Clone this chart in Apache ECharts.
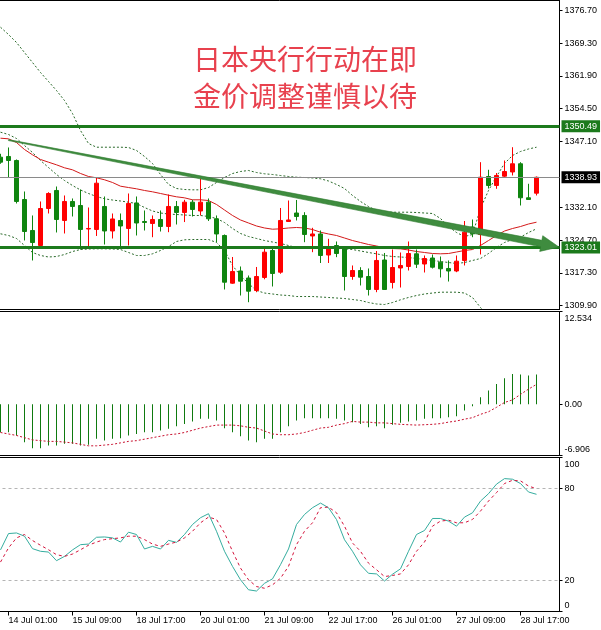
<!DOCTYPE html>
<html><head><meta charset="utf-8">
<script src="https://cdn.jsdelivr.net/npm/echarts@6/dist/echarts.min.js"></script>
<style>html,body{margin:0;padding:0;background:#fff}#c{width:601px;height:630px}</style>
</head><body><div id="c"></div>
<script>
// ---- tick labels ----
const xTickIdx = [1, 9, 17, 25, 33, 41, 49, 57, 65];
const xTickLabels = ['14 Jul 01:00','15 Jul 09:00','18 Jul 17:00','20 Jul 01:00','21 Jul 09:00','22 Jul 17:00','26 Jul 01:00','27 Jul 09:00','28 Jul 17:00'];
const priceTicks = [1309.90, 1317.30, 1324.70, 1332.10, 1347.10, 1354.50, 1361.90, 1369.30, 1376.70];
const macdTicks = [-6.906, 0, 12.534];
const macdTickLabels = ['-6.906', '0.00', '12.534'];
const stochTicks = [0, 20, 80, 100];
const stochLevels = [20, 80];

// ---- price candles (4H) ----
const opens = [1343.48,1343.64,1342.73,1333.90,1326.88,1323.48,1331.86,1335.94,1329.15,1333.45,1332.54,1327.22,1327.11,1332.32,1326.77,1329.15,1327.34,1333.11,1328.92,1328.47,1329.37,1327.79,1332.32,1330.96,1333.29,1331.30,1333.29,1329.53,1325.75,1314.95,1317.71,1316.12,1313.29,1316.24,1322.35,1317.44,1328.92,1330.84,1330.28,1325.64,1326.09,1321.33,1323.48,1322.80,1316.46,1317.82,1316.46,1313.52,1320.20,1315.11,1318.39,1318.73,1321.60,1319.29,1320.65,1319.70,1318.28,1317.71,1320.09,1327.67,1325.98,1339.11,1337.07,1339.18,1340.13,1341.99,1334.29,1335.33];
const highs = [1344.25,1345.68,1342.96,1335.71,1330.28,1333.45,1335.55,1336.84,1334.81,1334.13,1336.17,1332.09,1338.77,1334.58,1330.73,1330.73,1335.26,1334.58,1331.41,1330.28,1331.41,1335.03,1333.56,1333.83,1333.83,1338.66,1334.13,1330.28,1325.98,1320.88,1318.73,1316.69,1318.62,1323.37,1323.37,1331.98,1333.67,1333.79,1331.02,1327.49,1326.88,1325.00,1324.39,1323.10,1318.96,1318.57,1318.28,1322.24,1321.79,1322.58,1321.90,1324.39,1322.58,1321.22,1321.45,1320.99,1320.09,1321.22,1329.03,1329.37,1342.35,1340.63,1339.90,1342.73,1345.74,1342.35,1337.46,1339.11];
const lows = [1341.99,1338.88,1333.00,1324.62,1320.09,1323.10,1330.73,1326.43,1326.20,1330.05,1322.58,1323.26,1325.64,1323.71,1325.07,1323.26,1323.48,1325.75,1326.88,1325.36,1326.65,1326.50,1328.24,1328.79,1330.05,1330.28,1329.03,1324.23,1313.52,1314.81,1312.16,1310.64,1312.91,1315.83,1314.20,1317.08,1328.81,1329.15,1324.23,1321.97,1319.52,1319.52,1320.84,1313.29,1315.72,1314.43,1312.16,1312.91,1313.45,1313.75,1313.97,1317.82,1318.39,1317.37,1318.28,1316.24,1315.33,1317.44,1318.96,1325.36,1321.45,1336.39,1336.32,1338.88,1339.34,1332.54,1333.83,1334.81];
const closes = [1342.35,1342.73,1333.45,1326.65,1324.16,1331.86,1335.26,1329.37,1333.45,1332.32,1327.11,1327.34,1337.59,1326.77,1329.49,1327.90,1333.00,1328.58,1328.70,1329.37,1327.79,1332.32,1330.96,1333.29,1331.64,1333.29,1329.53,1326.09,1315.17,1317.60,1315.40,1313.14,1316.46,1321.97,1317.14,1329.15,1329.26,1330.05,1325.98,1326.09,1321.22,1323.14,1321.67,1316.46,1317.82,1316.31,1313.52,1320.09,1313.52,1318.50,1318.96,1321.67,1319.25,1320.54,1318.57,1318.21,1317.71,1319.93,1326.50,1326.13,1338.95,1337.07,1339.34,1340.24,1341.99,1334.29,1333.90,1338.93];

// ---- overlays ----
const bbUpper = [1372.91,1371.26,1369.45,1367.18,1364.92,1362.66,1360.62,1358.58,1356.31,1353.37,1349.52,1346.58,1345.74,1345.74,1345.74,1345.74,1345.67,1345.00,1343.64,1342.05,1339.56,1337.30,1336.39,1336.16,1336.09,1336.09,1336.61,1337.75,1338.88,1339.78,1340.24,1340.47,1340.01,1339.72,1339.56,1339.33,1339.11,1338.95,1338.88,1338.77,1338.59,1338.09,1337.30,1336.39,1334.81,1333.45,1332.31,1331.41,1331.02,1331.02,1331.02,1331.02,1330.95,1330.84,1330.73,1329.60,1327.78,1326.42,1325.52,1325.97,1331.86,1335.94,1339.11,1342.05,1343.86,1344.77,1345.34,1345.74];
const bbMiddle = [1349.14,1348.62,1347.71,1346.12,1344.54,1342.73,1341.14,1339.56,1338.20,1337.07,1336.05,1335.26,1334.58,1334.06,1333.78,1333.56,1333.29,1332.99,1332.09,1331.30,1330.84,1330.61,1330.50,1330.39,1330.28,1330.28,1330.05,1329.60,1328.69,1327.33,1326.20,1325.52,1325.07,1324.61,1324.27,1323.94,1323.48,1323.03,1322.80,1322.80,1322.80,1322.80,1322.80,1322.73,1322.57,1322.24,1321.90,1321.60,1321.22,1320.99,1320.88,1320.76,1320.54,1320.31,1320.09,1319.86,1319.63,1319.40,1319.63,1320.09,1320.54,1321.67,1323.03,1324.16,1324.84,1325.36,1326.42,1327.26];
const bbLower = [1326.13,1325.75,1325.07,1323.48,1321.90,1321.22,1320.88,1320.99,1321.44,1322.12,1322.57,1322.69,1322.73,1322.73,1322.69,1322.57,1321.90,1321.22,1321.22,1321.60,1322.35,1323.25,1324.39,1324.77,1324.84,1324.84,1324.84,1324.16,1322.35,1318.95,1316.69,1314.87,1313.29,1312.72,1312.50,1312.27,1312.16,1311.93,1311.93,1311.93,1311.82,1311.71,1311.59,1311.48,1311.25,1311.03,1310.57,1310.24,1310.12,1310.57,1311.19,1311.71,1312.16,1312.50,1312.72,1312.91,1312.91,1312.91,1312.72,1311.71,1309.44,1307.40,1306.95,1306.27,1305.82,1306.05,1307.40,1308.76];
const maRed = [1347.78,1347.64,1346.80,1345.22,1344.02,1342.96,1342.35,1341.75,1341.08,1340.62,1339.79,1339.11,1338.81,1338.36,1337.75,1336.91,1336.61,1336.32,1335.94,1335.64,1335.26,1334.87,1334.51,1334.28,1333.83,1333.83,1333.67,1332.77,1331.52,1330.28,1329.26,1328.58,1327.90,1327.45,1327.17,1327.26,1327.45,1327.56,1327.45,1327.10,1326.49,1326.09,1325.75,1325.18,1324.61,1324.16,1323.71,1323.37,1322.96,1322.80,1322.73,1322.46,1322.12,1321.90,1321.67,1321.60,1321.67,1322.01,1322.35,1322.57,1323.48,1324.61,1325.75,1326.76,1327.33,1327.78,1328.35,1328.76];

// ---- drawn objects ----
const resistance = 1350.49;
const support = 1323.01;
const lastPrice = 1338.93;
const trendStart = [1, 1347.35];
const trendEnd = [69.8, 1323.14];

// ---- MACD ----
const macdHist = [-3.76,-3.76,-4.21,-5.11,-5.92,-5.92,-5.56,-5.56,-5.33,-5.33,-5.56,-5.47,-4.66,-4.89,-4.66,-4.57,-4.21,-3.99,-3.76,-3.76,-3.54,-3.31,-2.95,-2.64,-2.32,-1.96,-1.96,-2.19,-3.22,-3.76,-4.30,-4.89,-5.11,-4.66,-4.66,-3.76,-2.95,-2.19,-1.87,-1.87,-1.87,-1.87,-1.96,-2.19,-2.41,-2.64,-3.09,-2.95,-3.22,-2.77,-2.50,-2.32,-2.19,-1.96,-1.87,-1.87,-1.74,-1.60,-0.83,-0.25,0.96,1.86,2.76,3.53,4.11,4.02,3.88,4.02];
const macdSignal = [-3.8,-4.0,-4.2,-4.5,-4.8,-4.9,-5.0,-5.0,-5.1,-5.2,-5.4,-5.6,-5.6,-5.5,-5.4,-5.2,-5.0,-4.9,-4.7,-4.5,-4.3,-4.1,-4.0,-3.8,-3.5,-3.2,-3.0,-2.8,-2.8,-2.8,-2.9,-3.1,-3.2,-3.6,-4.0,-4.1,-4.1,-4.0,-3.8,-3.5,-3.2,-3.1,-2.8,-2.6,-2.3,-2.4,-2.4,-2.5,-2.5,-2.6,-2.7,-2.75,-2.8,-2.75,-2.7,-2.6,-2.4,-2.25,-2.0,-1.8,-1.35,-1.0,-0.4,0.25,0.6,1.35,2.05,2.7];

// ---- Stochastic ----
const stochMain = [40,50.6,51,48.9,40.8,39.1,38.6,33.0,35.8,40,43.4,43.8,48.2,48.4,47.8,45.1,51.5,50.0,40.6,42.3,40.6,46.2,44.9,50.0,56.5,60.9,63.5,52.1,39.1,29.3,20.6,14.1,13.3,18.3,21.2,30.4,40.6,56.5,63.0,67.4,70.4,67.4,59.7,46.6,39.1,30.3,24.8,24.4,19.8,24.2,27.7,39.1,50.0,52.6,60.4,60.4,58.7,55.4,61.3,64.1,71.7,76.5,82.7,86.3,85.9,83.1,77.6,76.1];
const stochSignal = [32.1,41.3,47.8,50.0,46.1,43.0,40.1,36.9,35.8,37.3,40.1,43.0,45.1,46.7,47.3,47.8,48.9,48.9,46.7,43.8,42.3,43.8,45.1,47.8,52.1,57.6,61.3,59.8,51.0,39.1,28.2,20.6,16.2,15.1,17.3,21.6,29.3,43.4,52.1,57.6,67.4,67.8,64.1,55.4,44.5,39.1,31.4,27.1,22.7,23.4,24.4,30.3,39.1,45.1,55.4,58.7,59.3,57.6,57.6,59.8,65.2,71.7,77.2,83.1,85.2,84.8,81.5,79.7];

// ---- styles ----
const FONT = "'Liberation Sans', Arial, sans-serif";
const UP = '#ff0000', DOWN = '#0f850f', LEVEL = '#1c7a1c';
const pair = arr => arr.map((v, i) => [i, v]);
const xMin = -0.5, xMax = 69.875;
const GRID_LEFT = -3.5, GRID_W = 563;

function xAxisFor(g, bottom) {
  return {
    type: 'value', gridIndex: g, min: xMin, max: xMax,
    axisLine: { show: false, onZero: false }, splitLine: { show: false },
    axisTick: bottom ? { show: true, customValues: xTickIdx, length: 4, lineStyle: { color: '#000' } } : { show: false },
    axisLabel: bottom ? {
      show: true, customValues: xTickIdx, align: 'left', margin: 5,
      fontSize: 9, fontFamily: FONT, color: '#000',
      formatter: v => { const k = xTickIdx.indexOf(v); return k >= 0 ? xTickLabels[k] : ''; }
    } : { show: false }
  };
}
const richBase = { fontSize: 9, fontFamily: FONT, color: '#000' };
function yAxisFor(g, min, max, ticks, fmt) {
  return {
    type: 'value', gridIndex: g, position: 'right', min: min, max: max, scale: true,
    axisLine: { show: true, onZero: false, lineStyle: { color: '#000', width: 1 } },
    axisTick: { show: true, customValues: ticks, length: 3, lineStyle: { color: '#000' } },
    axisLabel: { show: true, customValues: ticks, formatter: fmt, fontSize: 9, fontFamily: FONT, color: '#000', margin: 5,
      rich: {
        n: Object.assign({}, richBase),
        t: Object.assign({ padding: [15, 0, 0, 0] }, richBase),
        b: Object.assign({ padding: [0, 0, 11, 0] }, richBase)
      } },
    splitLine: { show: false }
  };
}
const edgeFmt = (min, max, text) => v => {
  const s = text(v);
  if (v === max) return '{t|' + s + '}';
  if (v === min) return '{b|' + s + '}';
  return '{n|' + s + '}';
};

const chart = echarts.init(document.getElementById('c'), null, { renderer: 'canvas' });
const labelBox = (bg) => ({
  show: true, position: 'end', distance: 2, color: '#fff', backgroundColor: bg,
  padding: [2, 3, 1, 3], fontSize: 9, fontFamily: FONT
});
const gridCommon = { left: GRID_LEFT, width: GRID_W, show: true, borderColor: '#000', borderWidth: 1, outerBoundsMode: 'none', containLabel: false };

chart.setOption({
  animation: false,
  backgroundColor: '#fff',
  grid: [
    Object.assign({ top: 0.5, height: 309 }, gridCommon),
    Object.assign({ top: 311.5, height: 144 }, gridCommon),
    Object.assign({ top: 457.5, height: 154 }, gridCommon)
  ],
  xAxis: [xAxisFor(0, false), xAxisFor(1, false), xAxisFor(2, true)],
  yAxis: [
    yAxisFor(0, 1308.99, 1378.96, priceTicks, v => '{n|' + v.toFixed(2) + '}'),
    yAxisFor(1, -6.906, 12.534, macdTicks, edgeFmt(-6.906, 12.534, v => { const k = macdTicks.indexOf(v); return k >= 0 ? macdTickLabels[k] : ''; })),
    yAxisFor(2, 0, 100, stochTicks, edgeFmt(0, 100, v => String(v)))
  ],
  graphic: [
    { type: 'text', x: 305, y: 59, z: 100, style: { text: '日本央行行动在即', font: "normal 28px 'Noto Sans CJK SC'", fill: '#e8414e', align: 'center', verticalAlign: 'middle' } },
    { type: 'text', x: 305, y: 96, z: 100, style: { text: '金价调整谨慎以待', font: "normal 28px 'Noto Sans CJK SC'", fill: '#e8414e', align: 'center', verticalAlign: 'middle' } }
  ],
  series: [
    { name: 'upper', type: 'line', xAxisIndex: 0, yAxisIndex: 0, data: pair(bbUpper), showSymbol: false, z: 1,
      lineStyle: { color: '#2a6a2a', width: 1, type: [2, 2] } },
    { name: 'middle', type: 'line', xAxisIndex: 0, yAxisIndex: 0, data: pair(bbMiddle), showSymbol: false, z: 1,
      lineStyle: { color: '#2a6a2a', width: 1, type: [2, 2] } },
    { name: 'lower', type: 'line', xAxisIndex: 0, yAxisIndex: 0, data: pair(bbLower), showSymbol: false, z: 1,
      lineStyle: { color: '#2a6a2a', width: 1, type: [2, 2] } },
    { name: 'ma', type: 'line', xAxisIndex: 0, yAxisIndex: 0, data: pair(maRed), showSymbol: false, z: 1,
      lineStyle: { color: '#d41a1a', width: 1 } },
    { name: 'candles', type: 'candlestick', xAxisIndex: 0, yAxisIndex: 0, z: 3, barWidth: 5,
      data: opens.map((o, i) => [i, o, closes[i], lows[i], highs[i]]),
      itemStyle: { color: UP, color0: DOWN, borderColor: UP, borderColor0: DOWN, borderWidth: 1 } },
    { name: 'levels', type: 'line', xAxisIndex: 0, yAxisIndex: 0, data: [], z: 5,
      markLine: {
        silent: true, symbol: 'none', animation: false,
        data: [
          { yAxis: lastPrice, lineStyle: { color: '#8a8a8a', width: 1, type: 'solid' }, label: Object.assign(labelBox('#000'), { formatter: lastPrice.toFixed(2) }) },
          { yAxis: resistance, lineStyle: { color: LEVEL, width: 3, type: 'solid' }, label: Object.assign(labelBox(LEVEL), { formatter: resistance.toFixed(2) }) },
          { yAxis: support, lineStyle: { color: LEVEL, width: 3, type: 'solid' }, label: Object.assign(labelBox(LEVEL), { formatter: support.toFixed(2) }) }
        ]
      } },
    { name: 'trend', type: 'custom', xAxisIndex: 0, yAxisIndex: 0, z: 6, clip: false,
      data: [[trendStart[0], trendStart[1], trendEnd[0], trendEnd[1]]],
      encode: { x: [0, 2], y: [1, 3] },
      renderItem: function (params, api) {
        const p1 = api.coord([api.value(0), api.value(1)]);
        const p2 = api.coord([api.value(2), api.value(3)]);
        const dx = p2[0] - p1[0], dy = p2[1] - p1[1];
        const len = Math.hypot(dx, dy);
        const ux = dx / len, uy = dy / len, nx = -uy, ny = ux;
        const headLen = 18, headHalf = 8, w0 = 0.5, w1 = 3.3;
        const bx = p2[0] - ux * headLen, by = p2[1] - uy * headLen;
        const pts = [
          [p1[0] + nx * w0, p1[1] + ny * w0], [bx + nx * w1, by + ny * w1], [bx + nx * headHalf, by + ny * headHalf],
          [p2[0], p2[1]],
          [bx - nx * headHalf, by - ny * headHalf], [bx - nx * w1, by - ny * w1], [p1[0] - nx * w0, p1[1] - ny * w0]
        ];
        return { type: 'polygon', shape: { points: pts }, style: { fill: '#3f8c3f', stroke: '#2e7a2e', lineWidth: 0.6 } };
      } },
    { name: 'macd', type: 'bar', xAxisIndex: 1, yAxisIndex: 1, data: pair(macdHist), barWidth: 1,
      itemStyle: { color: '#0f7a0f' } },
    { name: 'macdSignal', type: 'line', xAxisIndex: 1, yAxisIndex: 1, data: pair(macdSignal), showSymbol: false,
      lineStyle: { color: '#c8102e', width: 1, type: [2, 2] } },
    { name: 'stochMain', type: 'line', xAxisIndex: 2, yAxisIndex: 2, data: pair(stochMain), showSymbol: false,
      lineStyle: { color: '#35ad9f', width: 1 },
      markLine: { silent: true, symbol: 'none', label: { show: false }, animation: false,
        lineStyle: { color: '#b4b4b4', width: 1, type: [3, 3] },
        data: stochLevels.map(v => ({ yAxis: v })) } },
    { name: 'stochSignal', type: 'line', xAxisIndex: 2, yAxisIndex: 2, data: pair(stochSignal), showSymbol: false,
      lineStyle: { color: '#d4143c', width: 1, type: [3, 3] } }
  ]
});
</script>
</body></html>
